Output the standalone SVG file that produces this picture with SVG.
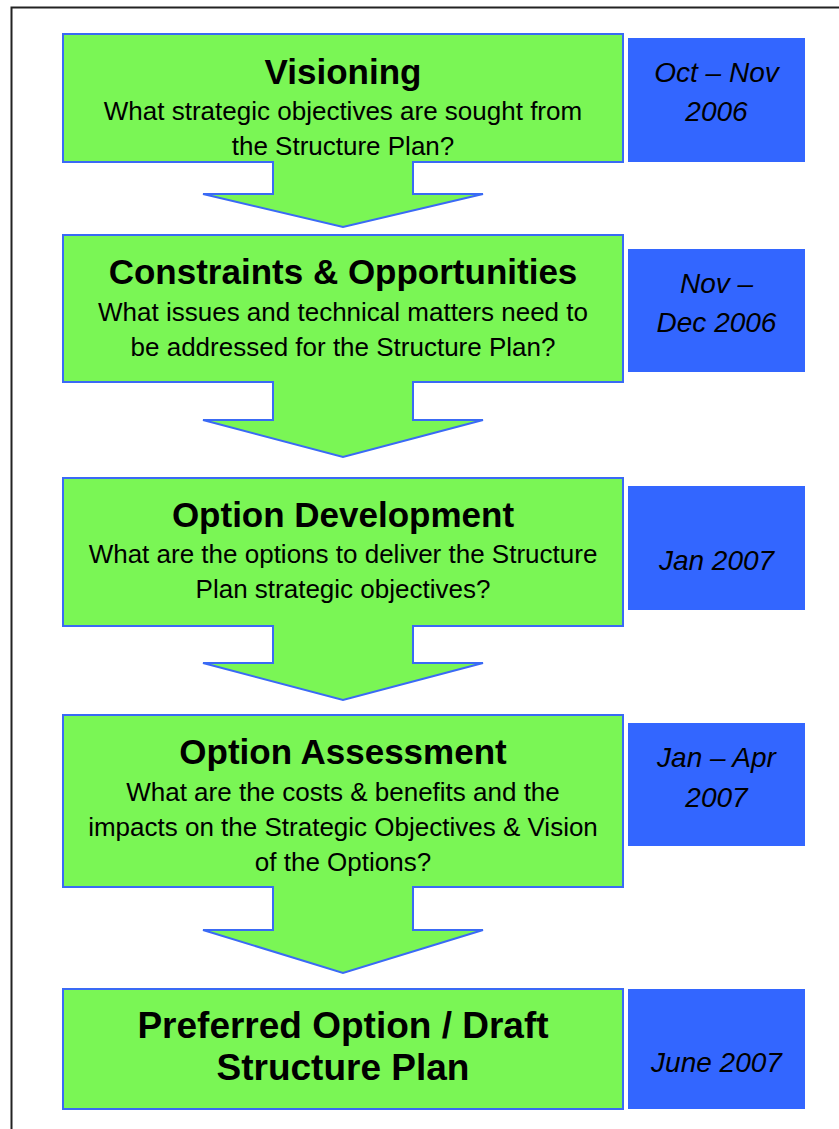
<svg xmlns="http://www.w3.org/2000/svg" width="839" height="1129" viewBox="0 0 839 1129">
<style>
.box{fill:#7af655;stroke:#3a6af5;stroke-width:2}
.date{fill:#3366ff}
.afill{fill:#7af655;stroke:none}
.aline{fill:none;stroke:#3a6af5;stroke-width:2;stroke-linejoin:miter}
.t{font-family:"Liberation Sans",Arial,sans-serif;font-weight:bold;font-size:35px;fill:#000;text-anchor:middle}
.s{font-family:"Liberation Sans",Arial,sans-serif;font-size:26px;fill:#000;text-anchor:middle}
.d{font-family:"Liberation Sans",Arial,sans-serif;font-style:italic;font-size:28px;fill:#000;text-anchor:middle}
</style>
<rect x="0" y="0" width="839" height="1129" fill="#fff"/>
<rect x="11.5" y="7.5" width="900" height="1200" fill="none" stroke="#222" stroke-width="2"/>

<g id="node-visioning">
<rect class="box" x="63" y="34" width="560" height="128"/>
<text class="t" x="343" y="84">Visioning</text>
<text class="s" x="343" y="120">What strategic objectives are sought from</text>
<text class="s" x="343" y="155">the Structure Plan?</text>
</g>
<g id="date-1">
<rect class="date" x="628" y="38" width="177" height="124"/>
<text class="d" x="716.5" y="82">Oct – Nov</text>
<text class="d" x="716.5" y="121">2006</text>
</g>

<g id="node-constraints">
<rect class="box" x="63" y="235" width="560" height="147"/>
<text class="t" x="343" y="284">Constraints &amp; Opportunities</text>
<text class="s" x="343" y="321">What issues and technical matters need to</text>
<text class="s" x="343" y="356">be addressed for the Structure Plan?</text>
</g>
<g id="date-2">
<rect class="date" x="628" y="249" width="177" height="123"/>
<text class="d" x="716.5" y="293">Nov –</text>
<text class="d" x="716.5" y="332">Dec 2006</text>
</g>

<g id="node-option-development">
<rect class="box" x="63" y="478" width="560" height="148"/>
<text class="t" x="343" y="527">Option Development</text>
<text class="s" x="343" y="563">What are the options to deliver the Structure</text>
<text class="s" x="343" y="598">Plan strategic objectives?</text>
</g>
<g id="date-3">
<rect class="date" x="628" y="486" width="177" height="124"/>
<text class="d" x="716.5" y="570">Jan 2007</text>
</g>

<g id="node-option-assessment">
<rect class="box" x="63" y="715" width="560" height="172"/>
<text class="t" x="343" y="764">Option Assessment</text>
<text class="s" x="343" y="801">What are the costs &amp; benefits and the</text>
<text class="s" x="343" y="836">impacts on the Strategic Objectives &amp; Vision</text>
<text class="s" x="343" y="871">of the Options?</text>
</g>
<g id="date-4">
<rect class="date" x="628" y="723" width="177" height="123"/>
<text class="d" x="716.5" y="767">Jan – Apr</text>
<text class="d" x="716.5" y="807">2007</text>
</g>

<g id="node-preferred-option">
<rect class="box" x="63" y="989" width="560" height="120"/>
<text class="t" x="343" y="1038" style="font-size:37px">Preferred Option / Draft</text>
<text class="t" x="343" y="1080" style="font-size:37px">Structure Plan</text>
</g>
<g id="date-5">
<rect class="date" x="628" y="989" width="177" height="120"/>
<text class="d" x="716.5" y="1072">June 2007</text>
</g>

<g id="connectors">
<polygon class="afill" points="274,160 412,160 412,194 483,194 343,227 203,194 274,194"/>
<polyline class="aline" points="273,162 273,194 203,194 343,227 483,194 413,194 413,162"/>
<polygon class="afill" points="274,380 412,380 412,420 483,420 343,457 203,420 274,420"/>
<polyline class="aline" points="273,382 273,420 203,420 343,457 483,420 413,420 413,382"/>
<polygon class="afill" points="274,624 412,624 412,663 483,663 343,700 203,663 274,663"/>
<polyline class="aline" points="273,626 273,663 203,663 343,700 483,663 413,663 413,626"/>
<polygon class="afill" points="274,885 412,885 412,930 483,930 343,973 203,930 274,930"/>
<polyline class="aline" points="273,887 273,930 203,930 343,973 483,930 413,930 413,887"/>
</g>
</svg>
